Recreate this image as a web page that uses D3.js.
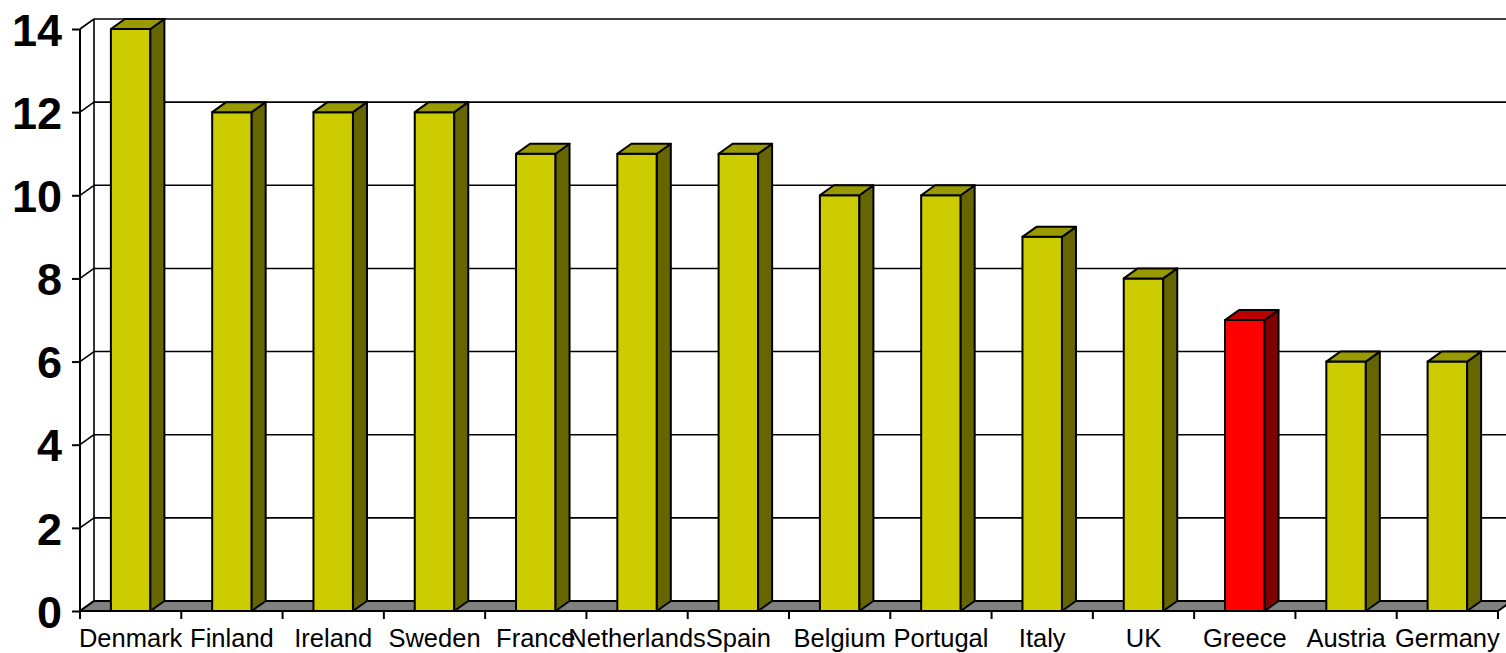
<!DOCTYPE html>
<html>
<head>
<meta charset="utf-8">
<script src="https://cdn.jsdelivr.net/npm/d3@7"></script>
<style>
body{margin:0;background:#fff;}
svg{display:block;font-family:"Liberation Sans",Arial,sans-serif;}
</style>
</head>
<body>
<script>
var countries = ["Denmark","Finland","Ireland","Sweden","France","Netherlands","Spain","Belgium","Portugal","Italy","UK","Greece","Austria","Germany"];
var values = [14,12,12,12,11,11,11,10,10,9,8,7,6,6];
var highlight = ["Greece"];//the red one
var yTicks = [0,2,4,6,8,10,12,14];

var width = 1506, height = 653;
var dx = 14, dy = -10;//3d depth offset

var svg = d3.select("body").append("svg")
    .attr("width", width)
    .attr("height", height);

var xScale = d3.scaleBand()
    .domain(countries)
    .range([80, 1498])
    .paddingInner(0).paddingOuter(0);
var yScale = d3.scaleLinear()
    .domain([0, 14])
    .range([611, 29]);

var x0 = xScale.range()[0], x1 = xScale.range()[1];
var yb = yScale(0);

// back wall
svg.append("rect")
    .attr("x", x0 + dx).attr("y", yScale(14) + dy)
    .attr("width", width).attr("height", yb - yScale(14))
    .attr("fill", "#fff");

// gridlines on back wall
svg.append("g").selectAll("line")
    .data(yTicks.filter(function(d){return d > 0;}))
    .enter().append("line")
    .attr("x1", x0 + dx).attr("x2", width + 5)
    .attr("y1", function(d){return yScale(d) + dy;})
    .attr("y2", function(d){return yScale(d) + dy;})
    .attr("stroke", "#000").attr("stroke-width", 1.6);

// left side wall: diagonals + edges
svg.append("g").selectAll("line")
    .data(yTicks)
    .enter().append("line")
    .attr("x1", x0).attr("x2", x0 + dx)
    .attr("y1", function(d){return yScale(d);})
    .attr("y2", function(d){return yScale(d) + dy;})
    .attr("stroke", "#000").attr("stroke-width", 1.6);
svg.append("line")
    .attr("x1", x0 + dx).attr("x2", x0 + dx)
    .attr("y1", yScale(14) + dy).attr("y2", yb + dy)
    .attr("stroke", "#000").attr("stroke-width", 1.6);

// floor
svg.append("path")
    .attr("d", "M" + x0 + "," + yb + "L" + (x0 + dx) + "," + (yb + dy) +
               "L" + (x1 + dx) + "," + (yb + dy) + "L" + x1 + "," + yb + "Z")
    .attr("fill", "#808080").attr("stroke", "#000").attr("stroke-width", 2)
    .attr("stroke-linejoin", "round");

// bars
var barW = xScale.bandwidth() * 0.39;
var bars = svg.append("g").selectAll("g")
    .data(countries)
    .enter().append("g");

function isRed(c){ return highlight.indexOf(c) >= 0; }

bars.each(function(c, i){
    var g = d3.select(this);
    var bx = xScale(c) + (xScale.bandwidth() - barW) / 2;
    var ty = yScale(values[i]);
    var red = isRed(c);
    // front
    g.append("rect")
        .attr("x", bx).attr("y", ty)
        .attr("width", barW).attr("height", yb - ty)
        .attr("fill", red ? "#ff0000" : "#cccc00");
    // side
    g.append("path")
        .attr("d", "M" + (bx + barW) + "," + ty + "L" + (bx + barW + dx) + "," + (ty + dy) +
                   "L" + (bx + barW + dx) + "," + (yb + dy) + "L" + (bx + barW) + "," + yb + "Z")
        .attr("fill", red ? "#800000" : "#666600");
    // top
    g.append("path")
        .attr("d", "M" + bx + "," + ty + "L" + (bx + dx) + "," + (ty + dy) +
                   "L" + (bx + barW + dx) + "," + (ty + dy) + "L" + (bx + barW) + "," + ty + "Z")
        .attr("fill", red ? "#bb0000" : "#999900");
    g.selectAll("*").attr("stroke", "#000").attr("stroke-width", 2).attr("stroke-linejoin", "round");
});

// front axis lines
svg.append("line")
    .attr("x1", x0).attr("x2", x0)
    .attr("y1", yScale(14)).attr("y2", yb)
    .attr("stroke", "#000").attr("stroke-width", 2);
svg.append("line")
    .attr("x1", x0).attr("x2", x1)
    .attr("y1", yb).attr("y2", yb)
    .attr("stroke", "#000").attr("stroke-width", 2);

// y axis ticks + labels
var yAxis = d3.axisLeft(yScale).tickValues(yTicks).tickSize(8).tickPadding(10);
var yg = svg.append("g").attr("transform", "translate(" + x0 + ",0)").call(yAxis);
yg.select(".domain").remove();
yg.selectAll(".tick line").attr("stroke", "#000").attr("stroke-width", 2);
yg.selectAll(".tick text")
    .attr("font-size", 45).attr("font-weight", "bold")
    .attr("font-family", "Liberation Sans, Arial, sans-serif")
    .attr("fill", "#000").attr("dy", "0.36em");

// x ticks at category boundaries
var bounds = countries.map(function(c){return xScale(c);}).concat([x1]);
svg.append("g").selectAll("line")
    .data(bounds)
    .enter().append("line")
    .attr("x1", function(d){return d;}).attr("x2", function(d){return d;})
    .attr("y1", yb).attr("y2", yb + 8)
    .attr("stroke", "#000").attr("stroke-width", 2);

// category labels
var xAxis = d3.axisBottom(xScale).tickSize(0).tickPadding(18);
var xg = svg.append("g").attr("transform", "translate(0," + yb + ")").call(xAxis);
xg.select(".domain").remove();
xg.selectAll(".tick text")
    .attr("font-size", 25.5)
    .attr("font-family", "Liberation Sans, Arial, sans-serif")
    .attr("fill", "#000");
</script>
</body>
</html>
